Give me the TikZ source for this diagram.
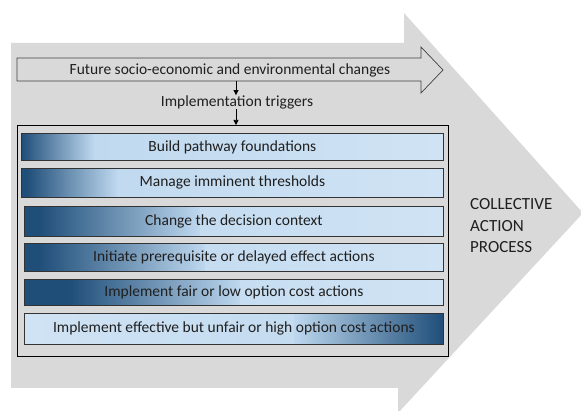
\documentclass[tikz,border=0pt]{standalone}
\usepackage{fontspec}
\setmainfont{Carlito}
\usetikzlibrary{arrows.meta}
\definecolor{bggray}{HTML}{D9D9D9}
\definecolor{bdark}{HTML}{1F4E79}
\definecolor{blight}{HTML}{BDD7EE}
\definecolor{blighter}{HTML}{D0E3F4}
\definecolor{txt}{HTML}{1F1F1F}
\definecolor{barline}{HTML}{333333}
\begin{document}
\begin{tikzpicture}[x=1pt,y=-1pt,
  lbl/.style={font=\fontsize{15.5}{18}\selectfont, text=txt, inner sep=0pt},
  conn/.style={draw=black, line width=0.7pt, -{Triangle[length=5pt,width=5pt]}},
  barbox/.style={draw=barline, line width=0.8pt, anchor=north west, inner sep=0pt,
    minimum height=#1, font=\fontsize{15.5}{18}\selectfont, text=txt},
  darkleft/.style 2 args={path picture={
    \shade[left color=blight, right color=blighter] (path picture bounding box.north west) rectangle (path picture bounding box.south east);
    \fill[bdark] (path picture bounding box.north west) rectangle ([xshift=#1]path picture bounding box.south west);
    \shade[left color=bdark, right color=blight] ([xshift=#1-0.2pt]path picture bounding box.north west) rectangle ([xshift=#2]path picture bounding box.south west);}},
  darkright/.style 2 args={path picture={
    \shade[left color=blighter, right color=blight] (path picture bounding box.north west) rectangle (path picture bounding box.south east);
    \shade[left color=blight, right color=bdark] ([xshift=#1]path picture bounding box.north west) rectangle ([xshift=#2]path picture bounding box.south west);}}
]
\useasboundingbox (0,0) rectangle (581,411);
\clip (0,0) rectangle (581,411);
% big grey process arrow
\fill[bggray] (11,43) -- (404,43) -- (404,13) -- (583,213) -- (398,413) -- (398,388) -- (11,388) -- cycle;
% future changes arrow
\draw[draw=black!75, line width=0.7pt] (17,58) -- (421,58) -- (421,47) -- (443,70) -- (421,93) -- (421,81) -- (17,81) -- cycle;
\node[lbl] (future) at (230,70) {Future socio-economic and environmental changes};
\coordinate (fb) at (236,81);
\node[lbl] (trig) at (237,102) {Implementation triggers};
% container
\node[draw=black, line width=0.8pt, fill=bggray, anchor=north west, inner sep=0pt,
  minimum width=431pt, minimum height=231pt] (cont) at (17,125) {};
\draw[conn] (fb) -- (trig.north -| fb);
\draw[conn] (trig.south -| fb) -- (cont.north -| fb);
% bars
\node[barbox=27pt, minimum width=422pt, darkleft={0pt}{72pt}] (b1) at (21,133) {Build pathway foundations};
\node[barbox=29pt, minimum width=422pt, darkleft={5pt}{95pt}] (b2) at (21,168) {Manage imminent thresholds};
\node[barbox=30pt, minimum width=419pt, darkleft={15pt}{175pt}] (b3) at (24,206) {Change the decision context};
\node[barbox=28pt, minimum width=419pt, darkleft={15pt}{180pt}] (b4) at (24,243) {Initiate prerequisite or delayed effect actions};
\node[barbox=26pt, minimum width=419pt, darkleft={45pt}{215pt}] (b5) at (24,279) {Implement fair or low option cost actions};
\node[barbox=31pt, minimum width=419pt, darkright={270pt}{419pt}] (b6) at (24,313) {Implement effective but unfair or high option cost actions};
% label
\node[anchor=west, align=left, inner sep=0pt, text=txt,
  font=\fontsize{17}{21.5}\selectfont] (cap) at (470,226) {COLLECTIVE\\ACTION\\PROCESS};
\end{tikzpicture}
\end{document}
